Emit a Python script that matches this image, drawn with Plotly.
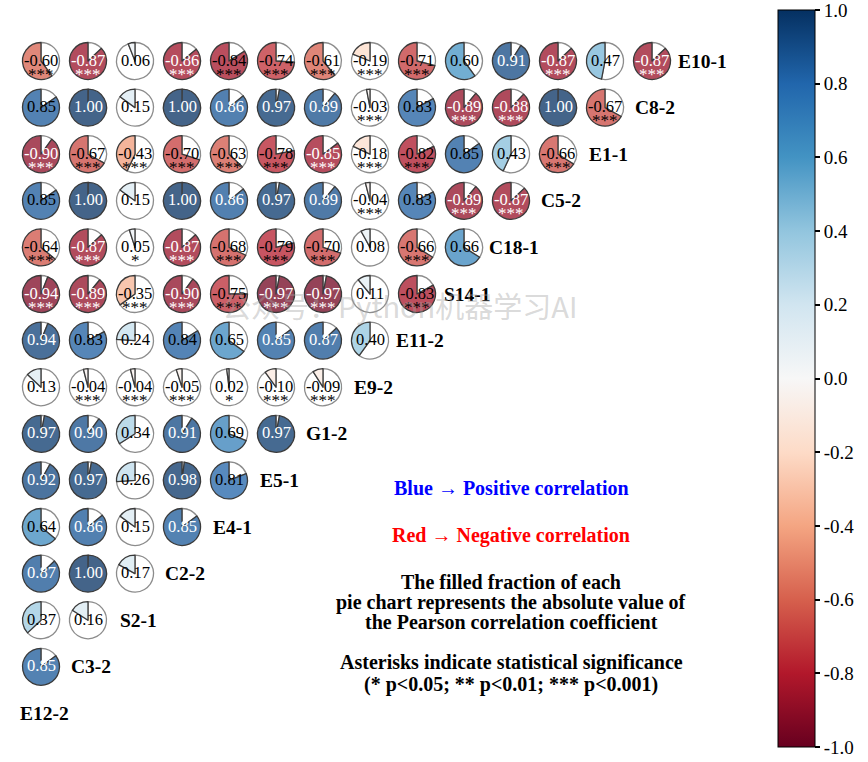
import plotly.graph_objects as go
from plotly.colors import sample_colorscale

# ---------------- data ----------------
row_labels = ["E10-1", "C8-2", "E1-1", "C5-2", "C18-1", "S14-1", "E11-2", "E9-2",
              "G1-2", "E5-1", "E4-1", "C2-2", "S2-1", "C3-2", "E12-2"]

corr_E10_1 = [-0.60, -0.87, 0.06, -0.86, -0.84, -0.74, -0.61, -0.19, -0.71, 0.60, 0.91, -0.87, 0.47, -0.87]
corr_C8_2 = [0.848, 0.998, 0.15, 0.998, 0.86, 0.97, 0.89, -0.03, 0.83, -0.89, -0.88, 0.998, -0.67]
corr_E1_1 = [-0.90, -0.67, -0.43, -0.70, -0.63, -0.78, -0.852, -0.18, -0.82, 0.848, 0.43, -0.66]
corr_C5_2 = [0.848, 0.998, 0.15, 0.998, 0.86, 0.97, 0.89, -0.04, 0.83, -0.89, -0.87]
corr_C18_1 = [-0.64, -0.87, 0.05, -0.87, -0.68, -0.79, -0.70, 0.08, -0.66, 0.66]
corr_S14_1 = [-0.94, -0.89, -0.35, -0.90, -0.75, -0.97, -0.97, 0.11, -0.83]
corr_E11_2 = [0.94, 0.83, 0.24, 0.84, 0.65, 0.852, 0.87, 0.40]
corr_E9_2 = [0.13, -0.04, -0.04, -0.05, 0.02, -0.10, -0.09]
corr_G1_2 = [0.97, 0.90, 0.34, 0.91, 0.69, 0.97]
corr_E5_1 = [0.92, 0.97, 0.26, 0.98, 0.81]
corr_E4_1 = [0.64, 0.86, 0.15, 0.852]
corr_C2_2 = [0.87, 0.998, 0.17]
corr_S2_1 = [0.37, 0.16]
corr_C3_2 = [0.852]
corr_E12_2 = []

sig_E10_1 = ["***", "***", "", "***", "***", "***", "***", "***", "***", "", "", "***", "", "***"]
sig_C8_2 = ["", "", "", "", "", "", "", "***", "", "***", "***", "", "***"]
sig_E1_1 = ["***", "***", "***", "***", "***", "***", "***", "***", "***", "", "", "***"]
sig_C5_2 = ["", "", "", "", "", "", "", "***", "", "***", "***"]
sig_C18_1 = ["***", "***", "*", "***", "***", "***", "***", "", "***", ""]
sig_S14_1 = ["***", "***", "***", "***", "***", "***", "***", "", "***"]
sig_E11_2 = ["", "", "", "", "", "", "", ""]
sig_E9_2 = ["", "***", "***", "***", "*", "***", "***"]
sig_G1_2 = [""] * 6
sig_E5_1 = [""] * 5
sig_E4_1 = [""] * 4
sig_C2_2 = [""] * 3
sig_S2_1 = [""] * 2
sig_C3_2 = [""]
sig_E12_2 = []

corr_rows = [corr_E10_1, corr_C8_2, corr_E1_1, corr_C5_2, corr_C18_1, corr_S14_1, corr_E11_2,
             corr_E9_2, corr_G1_2, corr_E5_1, corr_E4_1, corr_C2_2, corr_S2_1, corr_C3_2, corr_E12_2]
sig_rows = [sig_E10_1, sig_C8_2, sig_E1_1, sig_C5_2, sig_C18_1, sig_S14_1, sig_E11_2,
            sig_E9_2, sig_G1_2, sig_E5_1, sig_E4_1, sig_C2_2, sig_S2_1, sig_C3_2, sig_E12_2]

colorbar_ticks = [-1.0, -0.8, -0.6, -0.4, -0.2, 0.0, 0.2, 0.4, 0.6, 0.8, 1.0]
colorbar_ticklabels = ["-1.0", "-0.8", "-0.6", "-0.4", "-0.2", "0.0", "0.2", "0.4", "0.6", "0.8", "1.0"]
rdbu_hex = ["#67001f", "#b2182b", "#d6604d", "#f4a582", "#fddbc7", "#f7f7f7",
            "#d1e5f0", "#92c5de", "#4393c3", "#2166ac", "#053061"]

# ---------------- styling / geometry ----------------
W, H = 868, 762
SERIF = "Liberation Serif, Times New Roman, serif"
X0, DX = 41.0, 47.0      # pixel center of column 0 and spacing
Y0, DY = 61.0, 46.6      # pixel center of row 0 and spacing
PIE_R = 18.5
ALPHA = 0.75


def hex_to_rgb(h):
    h = h.lstrip("#")
    return "rgb(%d, %d, %d)" % (int(h[0:2], 16), int(h[2:4], 16), int(h[4:6], 16))


colorscale = [[i / (len(rdbu_hex) - 1), hex_to_rgb(c)] for i, c in enumerate(rdbu_hex)]


def fill_color(v):
    s = sample_colorscale(colorscale, [(v + 1) / 2])[0]
    r, g, b = [float(t) for t in s[s.index("(") + 1:s.index(")")].split(",")]
    return "rgb(%d,%d,%d)" % tuple(round(c * ALPHA + 255 * (1 - ALPHA)) for c in (r, g, b))


xr = [-X0 / DX, (W - X0) / DX]
yr = [(H - Y0) / DY, -Y0 / DY]


def to_paper(c, r):
    px = (c - xr[0]) / (xr[1] - xr[0])
    py = (r - yr[0]) / (yr[1] - yr[0])
    return px, py


def px_x(x):
    return x / W


def px_y(y):
    return 1 - y / H


fig = go.Figure()

xs, ys, vs = [], [], []
annotations = []
for r, (vals, sigs) in enumerate(zip(corr_rows, sig_rows)):
    for c, v in enumerate(vals):
        xs.append(c)
        ys.append(r)
        vs.append(v)
        px, py = to_paper(c, r)
        hw, hh = PIE_R / W, PIE_R / H
        fig.add_trace(go.Pie(
            values=[1 - abs(v), abs(v)],
            sort=False, direction="clockwise", rotation=0,
            marker=dict(colors=["white", fill_color(v)],
                        line=dict(color=["#8c8c8c", "#3a3a3a"], width=1.3)),
            textinfo="none", hoverinfo="skip", showlegend=False,
            domain=dict(x=[px - hw, px + hw], y=[py - hh, py + hh]),
        ))
        tcol = "white" if abs(v) > 0.85 else "black"
        annotations.append(dict(x=c, y=r, xref="x", yref="y", text="%.2f" % v, yshift=1,
                                showarrow=False, font=dict(family=SERIF, size=16.5, color=tcol)))
        if sigs[c]:
            annotations.append(dict(x=c, y=r, xref="x", yref="y", text=sigs[c], yshift=-13,
                                    showarrow=False, font=dict(family=SERIF, size=17, color=tcol)))
    annotations.append(dict(x=len(vals), y=r, xref="x", yref="y", text=row_labels[r], xshift=3,
                            showarrow=False,
                            font=dict(family=SERIF, size=19.5, color="black", weight="bold")))

# invisible carrier for the colour bar
fig.add_trace(go.Scatter(x=xs, y=ys, mode="markers", hoverinfo="skip", showlegend=False,
                         marker=dict(color=vs, coloraxis="coloraxis", opacity=0, size=1)))

text_lines = [
    ("Blue \u2192 Positive correlation", 488, "#0000ff"),
    ("Red \u2192 Negative correlation", 535, "#ff0000"),
    ("The filled fraction of each", 582, "black"),
    ("pie chart represents the absolute value of", 602, "black"),
    ("the Pearson correlation coefficient", 622, "black"),
    ("Asterisks indicate statistical significance", 662, "black"),
    ("(* p<0.05; ** p<0.01; *** p<0.001)", 684, "black"),
]
for t, y, col in text_lines:
    annotations.append(dict(x=px_x(511), y=px_y(y), xref="paper", yref="paper", text=t,
                            showarrow=False, xanchor="center", yanchor="middle",
                            font=dict(family=SERIF, size=20, color=col, weight="bold")))

annotations.append(dict(x=px_x(399), y=px_y(305), xref="paper", yref="paper",
                        text="公众号：Python机器学习AI", showarrow=False,
                        font=dict(family="Noto Sans CJK SC", size=29, color="rgba(160,160,160,0.4)")))

fig.update_layout(
    width=W, height=H, margin=dict(l=0, r=0, t=0, b=0, autoexpand=False),
    paper_bgcolor="white", plot_bgcolor="white",
    xaxis=dict(range=xr, visible=False, fixedrange=True),
    yaxis=dict(range=yr, visible=False, fixedrange=True),
    coloraxis=dict(
        colorscale=colorscale, cmin=-1, cmax=1,
        colorbar=dict(
            x=px_x(778), xanchor="left", xpad=0, ypad=0,
            y=px_y(10), yanchor="top", len=737 / H, lenmode="fraction",
            thickness=37, outlinewidth=1, outlinecolor="black",
            ticks="outside", ticklen=5, tickwidth=1.5, tickcolor="black",
            tickvals=colorbar_ticks, ticktext=colorbar_ticklabels,
            ticklabeloverflow="allow",
            tickfont=dict(family=SERIF, size=19, color="black"),
        ),
    ),
    annotations=annotations,
    showlegend=False,
)

fig.write_html("out.html", config={"displayModeBar": False},
               post_script="document.body.style.margin='0';document.body.style.overflow='hidden';")
